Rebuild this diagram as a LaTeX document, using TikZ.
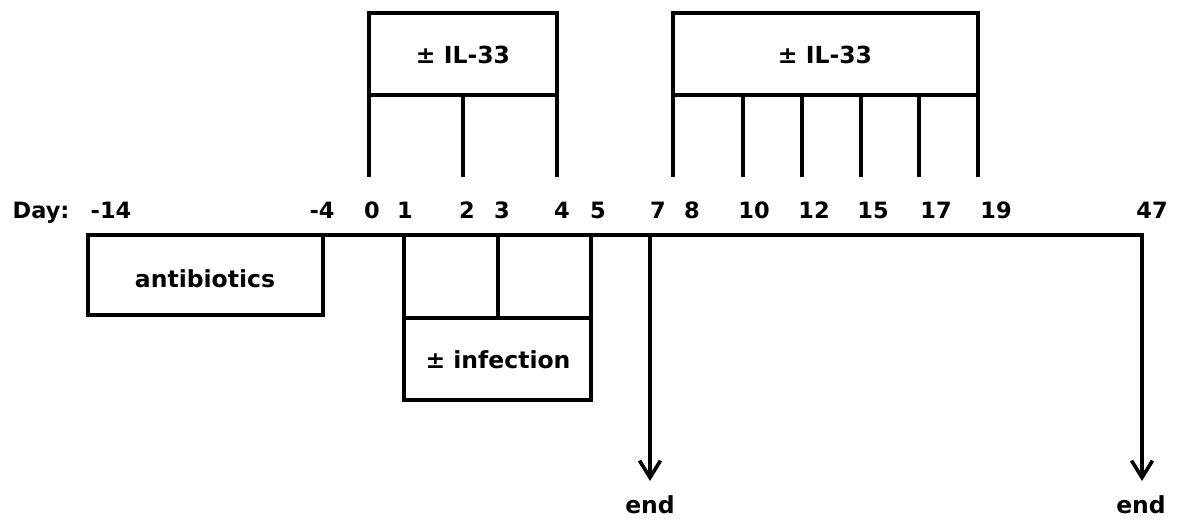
\documentclass[tikz,border=0pt]{standalone}
\usepackage{fontspec}
\setmainfont{DejaVu Sans}
\usetikzlibrary{arrows.meta}
\begin{document}
\begin{tikzpicture}[x=1pt,y=-1pt,
  rule/.style={line width=3.6pt, line cap=rect, line join=miter},
  lbl/.style={inner sep=0pt, anchor=base, font=\bfseries\fontsize{22.5}{24}\selectfont},
  boxlbl/.style={lbl, font=\bfseries\fontsize{23.5}{25}\selectfont},
  endarrow/.style={rule, line cap=butt, -{Straight Barb[length=17pt,width=21pt,line width=3.6pt]}}]
  \useasboundingbox (0,0) rectangle (1184,519);

  % day scale
  \foreach \name/\x/\t in {day/41/Day:, dm14/111/-14, dm4/322/-4, d0/372/0, d1/405/1,
      d2/467/2, d3/502/3, d4/562/4, d5/598/5, d7/658/7, d8/692/8, d10/754/10,
      d12/814/12, d15/873/15, d17/936/17, d19/996/19, d47/1152/47}
    \node[lbl] (\name) at (\x,218) {\t};

  % timeline
  \coordinate (tl0) at (88,235);
  \coordinate (tl1) at (1142,235);
  \draw[rule] (tl0) -- (tl1);

  % antibiotics
  \draw[rule] (88,235) rectangle (323,315);
  \node[boxlbl] (abx) at (205,287) {antibiotics};

  % infection
  \draw[rule] (404,235) rectangle (591,400);
  \draw[rule] (404,318) -- (591,318);
  \draw[rule] (498,235) -- (498,318);
  \node[boxlbl] (inf) at (498,368) {± infection};

  % first IL-33 block
  \draw[rule] (369,13) rectangle (557,95);
  \foreach \x in {369,463,557} \draw[rule] (\x,95) -- (\x,175);
  \node[boxlbl] (il1) at (463,64) {± IL-33};

  % second IL-33 block
  \draw[rule] (673,13) rectangle (978,95);
  \foreach \x in {673,743,802,861,919,978} \draw[rule] (\x,95) -- (\x,175);
  \node[boxlbl] (il2) at (825,64) {± IL-33};

  % end points
  \coordinate (a7) at (650,235);
  \coordinate (a47) at (1142,235);
  \coordinate (e7) at (650,481);
  \coordinate (e47) at (1142,481);
  \draw[endarrow] (a7) -- (e7);
  \draw[endarrow] (a47) -- (e47);
  \node[boxlbl] (end1) at (650,513) {end};
  \node[boxlbl] (end2) at (1141,513) {end};
\end{tikzpicture}
\end{document}
